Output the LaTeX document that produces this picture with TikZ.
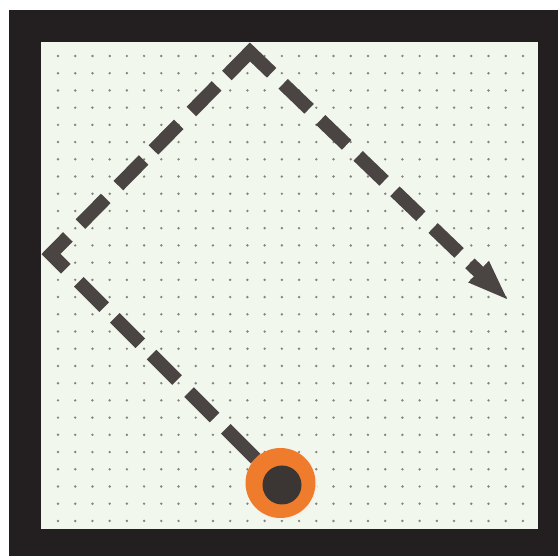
\documentclass[tikz,border=0pt]{standalone}
\usetikzlibrary{calc}
\definecolor{framecol}{HTML}{231F20}
\definecolor{papercol}{HTML}{F2F7EE}
\definecolor{dotcol}{HTML}{85857D}
\definecolor{segcol}{HTML}{4A4542}
\definecolor{orangecol}{HTML}{EF7B2C}
\definecolor{corecol}{HTML}{3B3634}
\definecolor{rimcol}{HTML}{F4F1EA}
\begin{document}
\begin{tikzpicture}[x=1pt,y=-1pt,
  seg/.style={draw=segcol,line width=13.5pt,line cap=butt},
  chev/.style={seg,line join=miter},
  headfill/.style={fill=segcol}]
\useasboundingbox (0,0) rectangle (558,556);
\fill[white] (0,0) rectangle (558,556);
\fill[framecol] (9,10) rectangle (558,556);
\fill[papercol] (41,42) rectangle (538,529);
\foreach \i in {0,...,27}
  \foreach \j in {0,...,27}
    \fill[dotcol] ({58+17.22*\i},{56+17.22*\j}) circle (1.35pt);
% key points of the route
\coordinate (S) at (281,484);
\coordinate (L) at (51,254);
\coordinate (T) at (250,52);
\coordinate (E) at (507,299);
% leg 1: start to left corner
\foreach \a/\b in {36pt/78pt,94pt/130pt,147pt/183pt,199pt/235pt,250pt/286pt}
  \draw[seg] ($(S)!\a!(L)$) -- ($(S)!\b!(L)$);
% left corner
\draw[chev] ($(L)!21pt!(S)$) -- (L) -- ($(L)!24pt!(T)$);
% leg 2: left corner to top corner
\foreach \a/\b in {42pt/78pt,96pt/132pt,146pt/182pt,200pt/236pt}
  \draw[seg] ($(L)!\a!(T)$) -- ($(L)!\b!(T)$);
% top corner
\draw[chev] ($(T)!33pt!(L)$) -- (T) -- ($(T)!30pt!(E)$);
% leg 3: top corner to arrow
\foreach \a/\b in {46pt/82pt,98pt/134pt,150pt/186pt,201pt/237pt,254pt/290pt}
  \draw[seg] ($(T)!\a!(E)$) -- ($(T)!\b!(E)$);
% arrow shaft and head
\coordinate (HB) at ($(T)!317pt!(E)$);
\draw[seg] ($(T)!305pt!(E)$) -- ($(T)!320pt!(E)$);
\fill[headfill] ($(HB)!15pt!90:(E)$) -- (E) -- ($(HB)!15pt!-90:(E)$) -- cycle;
% start marker
\fill[rimcol] (282,484.5) circle (35.5pt);
\fill[orangecol] (280.5,483) circle (35pt);
\fill[corecol] (282,485) circle (19.5pt);
\end{tikzpicture}
\end{document}
